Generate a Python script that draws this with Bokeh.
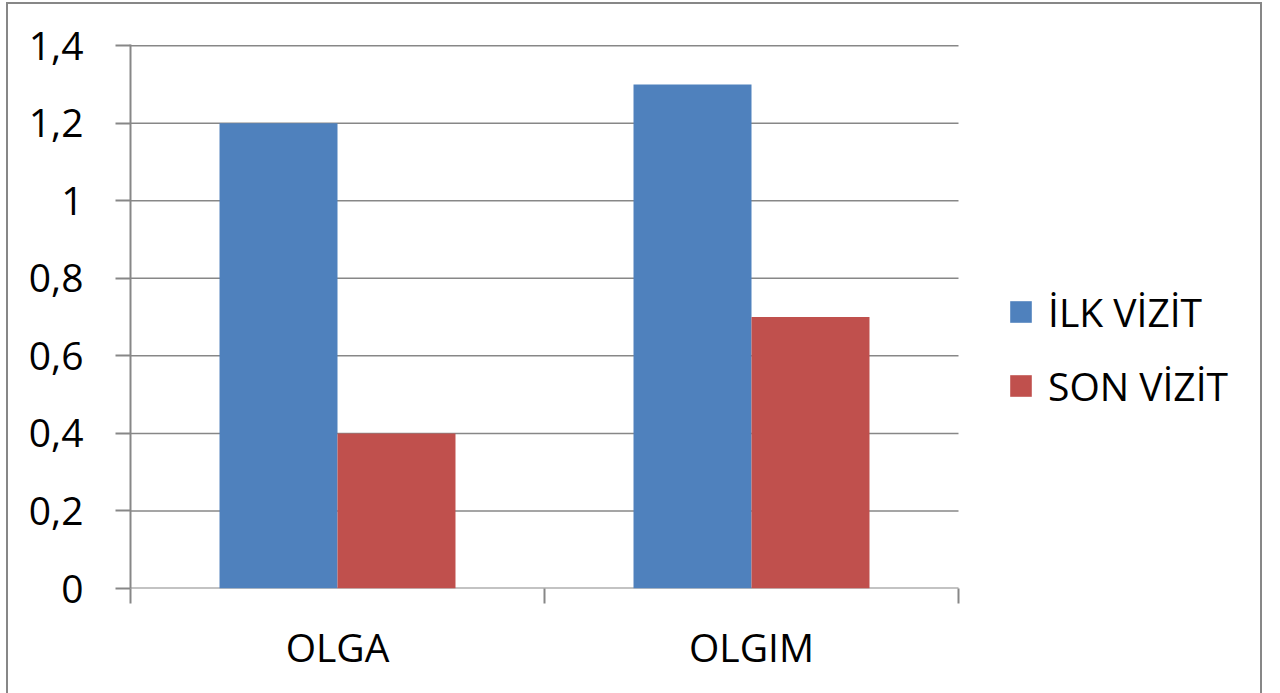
from bokeh.plotting import figure
from bokeh.models import (ColumnDataSource, Range1d, FixedTicker, CustomJSTickFormatter,
                          Legend, LegendItem)
from bokeh.transform import dodge
from bokeh.embed import file_html
from bokeh.resources import INLINE

# Chart data
categories = ["OLGA", "OLGIM"]
ilk_vizit = [1.2, 1.3]
son_vizit = [0.4, 0.7]
y_ticks = [0, 0.2, 0.4, 0.6, 0.8, 1.0, 1.2, 1.4]
series_names = ["İLK VİZİT", "SON VİZİT"]

FONT = "Open Sans"
FONT_SIZE = "39px"
GRAY = "#878787"
BLUE = "#4F81BD"
RED = "#C0504D"

n = len(categories)
xpos = [i + 0.5 for i in range(n)]
source = ColumnDataSource(dict(x=xpos, cat=categories, ilk=ilk_vizit, son=son_vizit))

# canvas sits inside a 2px bordered box offset (6, 2) from the page corner
OX, OY = 8, 4
W, H = 1256, 700
PLOT_L, PLOT_R = 130, 958          # category area, page pixels
FRAME_R = OX + W                   # frame runs to the right edge so the legend fits inside it
x_end = n * (FRAME_R - PLOT_L) / (PLOT_R - PLOT_L)

p = figure(width=W, height=H, output_backend="svg", toolbar_location=None,
           x_range=Range1d(0, x_end), y_range=Range1d(0, 1.403),
           min_border_left=PLOT_L - OX, min_border_right=0,
           min_border_top=44 - OY, min_border_bottom=H - (588 - OY))
p.styles = {"margin-left": "6px", "margin-top": "2px",
            "border": f"2px solid {GRAY}"}
p.outline_line_color = None
p.background_fill_color = "white"
p.border_fill_color = "white"

# horizontal gridlines and baseline over the category area only
p.segment(x0=0, x1=n, y0=y_ticks[1:], y1=y_ticks[1:], line_color=GRAY, line_width=1.5)
p.segment(x0=0, x1=n, y0=y_ticks[0], y1=y_ticks[0], line_color=GRAY, line_width=2)

bar_w = 0.285
r1 = p.vbar(x=dodge("x", -bar_w / 2, range=p.x_range), top="ilk", width=bar_w,
            source=source, fill_color=BLUE, line_color=None)
r2 = p.vbar(x=dodge("x", bar_w / 2, range=p.x_range), top="son", width=bar_w,
            source=source, fill_color=RED, line_color=None)

# x axis: labels centred in each category, ticks on category boundaries
p.xaxis.ticker = FixedTicker(ticks=xpos, minor_ticks=list(range(n + 1)))
p.xaxis.major_label_overrides = {x: c for x, c in zip(xpos, categories)}
p.xaxis.major_tick_out = 0
p.xaxis.major_tick_in = 0
p.xaxis.minor_tick_out = 15
p.xaxis.minor_tick_in = 0
p.xaxis.minor_tick_line_color = GRAY
p.xaxis.minor_tick_line_width = 2
p.xaxis.axis_line_color = None
p.xaxis.major_label_text_font = FONT
p.xaxis.major_label_text_font_size = FONT_SIZE
p.xaxis.major_label_text_color = "black"
p.xaxis.major_label_standoff = 16
p.xgrid.grid_line_color = None
p.ygrid.grid_line_color = None

# y axis with decimal comma labels
p.yaxis.ticker = FixedTicker(ticks=y_ticks, minor_ticks=[])
p.yaxis.formatter = CustomJSTickFormatter(
    code="var s = tick.toFixed(1).replace('.', ','); return s.endsWith(',0') ? s.slice(0, -2) : s;")
p.yaxis.major_tick_out = 15
p.yaxis.major_tick_in = 0
p.yaxis.major_tick_line_color = GRAY
p.yaxis.major_tick_line_width = 2
p.yaxis.axis_line_color = GRAY
p.yaxis.axis_line_width = 2
p.yaxis.major_label_text_font = FONT
p.yaxis.major_label_text_font_size = FONT_SIZE
p.yaxis.major_label_text_color = "black"
p.yaxis.major_label_standoff = 32

legend = Legend(items=[LegendItem(label=series_names[0], renderers=[r1]),
                       LegendItem(label=series_names[1], renderers=[r2])],
                location=(1007 - PLOT_L, 588 - 412), orientation="vertical")
legend.border_line_color = None
legend.background_fill_alpha = 0
legend.padding = 0
legend.margin = 0
legend.spacing = 21
legend.glyph_width = 27
legend.glyph_height = 27
legend.label_standoff = 14
legend.label_text_font = FONT
legend.label_text_font_size = FONT_SIZE
legend.label_text_color = "black"
p.add_layout(legend, "center")

open("out.html", "w").write(file_html(p, INLINE))
